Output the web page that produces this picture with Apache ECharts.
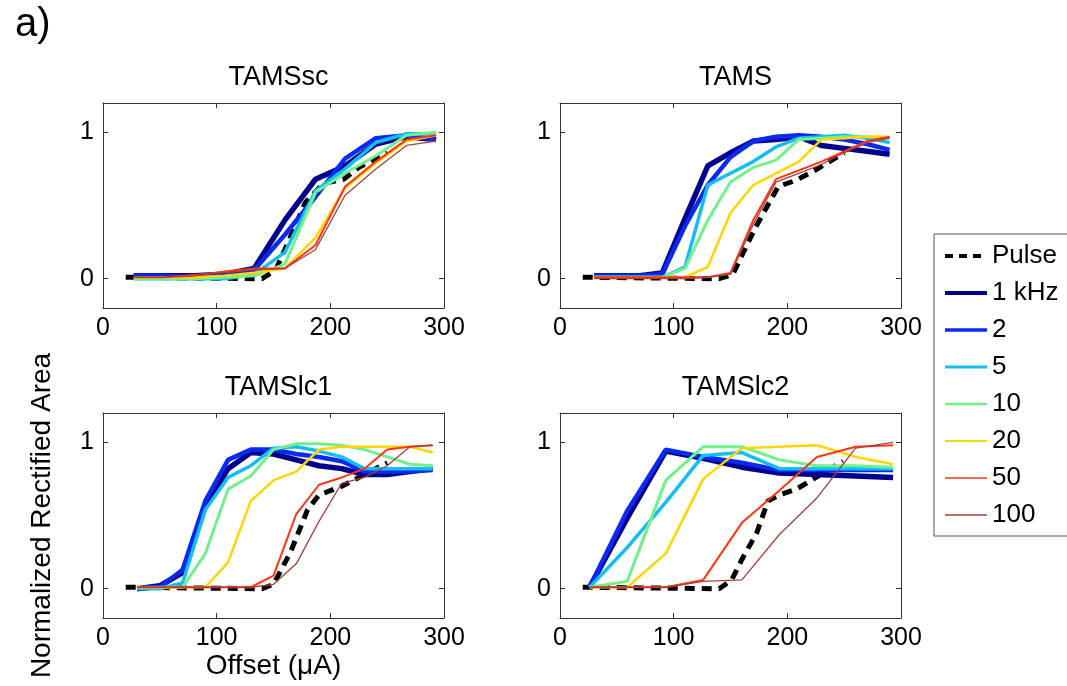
<!DOCTYPE html>
<html>
<head>
<meta charset="utf-8">
<script src="https://cdn.jsdelivr.net/npm/echarts@6/dist/echarts.min.js"></script>
<style>html,body{margin:0;padding:0;background:#fff}#c{width:1067px;height:686px}</style>
</head>
<body>
<div id="c"></div>
<script>
// ---- data ----
const panelTitles = ['TAMSsc', 'TAMS', 'TAMSlc1', 'TAMSlc2'];
const seriesNames = ['Pulse', '1 kHz', '2', '5', '10', '20', '50', '100'];
const xTicks = [0, 100, 200, 300];
const yTicks = [0, 1];

// TAMSsc
const scX = [27, 53, 80, 107, 133, 160, 187, 213, 240, 267, 293];
const sc1k = [0.02, 0.02, 0.02, 0.03, 0.07, 0.40, 0.68, 0.77, 0.92, 0.97, 0.95];
const sc2 = [0.02, 0.02, 0.01, 0.02, 0.06, 0.30, 0.56, 0.82, 0.96, 0.98, 0.95];
const sc5 = [0.00, 0.00, 0.00, 0.00, 0.03, 0.18, 0.60, 0.75, 0.93, 0.99, 0.99];
const sc10 = [0.00, 0.00, 0.00, 0.01, 0.02, 0.10, 0.59, 0.72, 0.84, 0.98, 1.00];
const sc20 = [0.01, 0.01, 0.01, 0.02, 0.04, 0.07, 0.28, 0.62, 0.79, 0.94, 0.98];
const sc50 = [0.01, 0.01, 0.02, 0.05, 0.07, 0.07, 0.23, 0.63, 0.80, 0.95, 0.98];
const sc100 = [0.01, 0.01, 0.03, 0.04, 0.06, 0.07, 0.20, 0.57, 0.75, 0.91, 0.94];
const scPulseX = [20, 140, 152, 160, 178, 194, 212, 225, 250];
const scPulse = [0.01, 0.00, 0.06, 0.20, 0.52, 0.65, 0.68, 0.76, 0.86];

// TAMS
const tX = [30, 50, 70, 90, 110, 130, 150, 170, 190, 210, 230, 250, 270, 290];
const t1k = [0.02, 0.02, 0.02, 0.04, 0.41, 0.77, 0.86, 0.94, 0.95, 0.97, 0.91, 0.89, 0.87, 0.85];
const t2 = [0.02, 0.02, 0.02, 0.03, 0.36, 0.64, 0.83, 0.94, 0.97, 0.98, 0.97, 0.95, 0.92, 0.88];
const t5 = [0.01, 0.01, 0.01, 0.01, 0.08, 0.64, 0.72, 0.80, 0.90, 0.96, 0.97, 0.98, 0.96, 0.93];
const t10 = [0.01, 0.01, 0.01, 0.01, 0.07, 0.40, 0.66, 0.76, 0.81, 0.95, 0.96, 0.97, 0.97, 0.96];
const t20 = [0.01, 0.01, 0.01, 0.01, 0.01, 0.08, 0.45, 0.64, 0.72, 0.80, 0.95, 0.96, 0.97, 0.97];
const t50 = [0.01, 0.01, 0.01, 0.01, 0.01, 0.01, 0.04, 0.40, 0.68, 0.74, 0.80, 0.87, 0.94, 0.97];
const t100 = [0.00, 0.00, 0.00, 0.00, 0.00, 0.01, 0.03, 0.37, 0.66, 0.72, 0.78, 0.86, 0.93, 0.96];
const tPulseX = [20, 140, 152, 172, 192, 207, 222, 250];
const tPulse = [0.01, 0.00, 0.03, 0.35, 0.63, 0.67, 0.73, 0.86];

// TAMSlc1
const l1X = [30, 50, 70, 90, 110, 130, 150, 170, 190, 210, 230, 250, 270, 290];
const l11k = [0.00, 0.02, 0.11, 0.56, 0.82, 0.93, 0.92, 0.88, 0.84, 0.82, 0.78, 0.78, 0.80, 0.82];
const l12 = [0.00, 0.01, 0.13, 0.60, 0.88, 0.95, 0.95, 0.92, 0.90, 0.87, 0.80, 0.80, 0.80, 0.81];
const l15 = [0.00, 0.00, 0.04, 0.54, 0.76, 0.84, 0.96, 0.97, 0.94, 0.90, 0.82, 0.82, 0.82, 0.82];
const l110 = [0.01, 0.01, 0.01, 0.24, 0.68, 0.77, 0.95, 0.99, 0.99, 0.98, 0.95, 0.90, 0.85, 0.84];
const l120 = [0.01, 0.01, 0.01, 0.01, 0.18, 0.60, 0.74, 0.80, 0.95, 0.97, 0.97, 0.97, 0.97, 0.93];
const l150 = [0.01, 0.01, 0.01, 0.01, 0.01, 0.01, 0.09, 0.51, 0.71, 0.76, 0.82, 0.95, 0.97, 0.98];
const l1100 = [0.01, 0.01, 0.01, 0.01, 0.01, 0.01, 0.03, 0.17, 0.46, 0.72, 0.76, 0.84, 0.97, 0.98];
const l1PulseX = [20, 140, 150, 165, 180, 190, 210, 225, 250];
const l1Pulse = [0.01, 0.00, 0.03, 0.25, 0.54, 0.64, 0.70, 0.76, 0.86];

// TAMSlc2
const l2X = [26, 59, 93, 126, 160, 193, 226, 260, 293];
const l21k = [0.01, 0.48, 0.94, 0.89, 0.83, 0.79, 0.78, 0.77, 0.76];
const l22 = [0.01, 0.53, 0.95, 0.90, 0.86, 0.81, 0.81, 0.81, 0.81];
const l25 = [0.01, 0.28, 0.59, 0.91, 0.93, 0.82, 0.82, 0.82, 0.82];
const l210 = [0.01, 0.05, 0.74, 0.97, 0.97, 0.88, 0.84, 0.84, 0.83];
const l220 = [0.01, 0.01, 0.24, 0.75, 0.96, 0.97, 0.98, 0.90, 0.85];
const l250 = [0.01, 0.01, 0.01, 0.06, 0.45, 0.67, 0.90, 0.97, 0.98];
const l2100 = [0.01, 0.01, 0.01, 0.05, 0.06, 0.37, 0.62, 0.96, 1.00];
const l2PulseX = [20, 140, 151, 160, 173, 183, 193, 208, 223, 249];
const l2Pulse = [0.01, 0.00, 0.06, 0.20, 0.38, 0.60, 0.64, 0.68, 0.75, 0.87];

// ---- styles ----
const colors = ['#000000', '#00008c', '#0a2af2', '#12bff5', '#72f08c', '#ffd600', '#ff3412', '#a8403c'];
const widths = [5, 5.5, 4.5, 3.5, 3, 2.5, 2, 1.3];
const legendWidths = [4, 4, 3.4, 3, 2.7, 2, 1.7, 1.3];

const panels = [
  {x: scX, px: scPulseX, pulse: scPulse, ys: [sc1k, sc2, sc5, sc10, sc20, sc50, sc100]},
  {x: tX, px: tPulseX, pulse: tPulse, ys: [t1k, t2, t5, t10, t20, t50, t100]},
  {x: l1X, px: l1PulseX, pulse: l1Pulse, ys: [l11k, l12, l15, l110, l120, l150, l1100]},
  {x: l2X, px: l2PulseX, pulse: l2Pulse, ys: [l21k, l22, l25, l210, l220, l250, l2100]}
];
const gridPos = [
  {left: 103, top: 103}, {left: 560, top: 103},
  {left: 103, top: 413}, {left: 560, top: 413}
];
const FONT = 'Liberation Sans';
const axisCol = '#333';

const grids = [], xAxes = [], yAxes = [], series = [], titles = [];
titles.push({text: 'a)', left: 10, top: 0, textStyle: {fontSize: 40, fontWeight: 'normal', color: '#000', fontFamily: FONT}});

gridPos.forEach((g, i) => {
  grids.push({left: g.left, top: g.top, width: 341, height: 205, containLabel: false});
  titles.push({text: panelTitles[i], left: g.left + 170.5, top: g.top - 44, textAlign: 'center',
    textStyle: {fontSize: 27, fontWeight: 'normal', color: '#000', fontFamily: FONT}});
  const common = {
    gridIndex: i, type: 'value', splitLine: {show: false},
    axisLine: {show: true, onZero: false, lineStyle: {color: axisCol, width: 1}},
    axisTick: {show: true, inside: true, length: 5, lineStyle: {color: axisCol}}
  };
  xAxes.push(Object.assign({}, common, {
    position: 'bottom', min: xTicks[0], max: xTicks[xTicks.length - 1], interval: 100,
    axisLabel: {color: '#000', fontSize: 25, fontFamily: FONT, margin: 8},
    name: i === 2 ? 'Offset (\u03bcA)' : '', nameLocation: 'middle', nameGap: 32,
    nameTextStyle: {fontSize: 28, color: '#000', fontFamily: FONT}
  }));
  xAxes.push(Object.assign({}, common, {
    position: 'top', min: xTicks[0], max: xTicks[xTicks.length - 1], interval: 100,
    axisLabel: {show: false}
  }));
  yAxes.push(Object.assign({}, common, {
    position: 'left', min: -0.2, max: 1.2,
    axisTick: {show: true, inside: true, length: 5, lineStyle: {color: axisCol}, customValues: yTicks},
    axisLabel: {color: '#000', fontSize: 25, fontFamily: FONT, margin: 9, customValues: yTicks},
    name: i === 2 ? 'Normalized Rectified Area' : '', nameLocation: 'middle', nameGap: 47,
    nameTextStyle: {fontSize: 28, color: '#000', fontFamily: FONT}
  }));
  yAxes.push(Object.assign({}, common, {
    position: 'right', min: -0.2, max: 1.2,
    axisTick: {show: true, inside: true, length: 5, lineStyle: {color: axisCol}, customValues: yTicks},
    axisLabel: {show: false}
  }));
  const p = panels[i];
  // pulse first (drawn beneath the coloured lines)
  series.push({
    name: seriesNames[0], type: 'line', xAxisIndex: 2 * i, yAxisIndex: 2 * i,
    data: p.px.map((xv, j) => [xv, p.pulse[j]]), symbol: 'none', animation: false, silent: true,
    lineStyle: {color: colors[0], width: widths[0], type: [10, 7], cap: 'butt'}, itemStyle: {color: colors[0]}, z: 2
  });
  p.ys.forEach((ys, k) => {
    const s = k + 1;
    series.push({
      name: seriesNames[s], type: 'line', xAxisIndex: 2 * i, yAxisIndex: 2 * i,
      data: p.x.map((xv, j) => [xv, ys[j]]), symbol: 'none', animation: false, silent: true,
      lineStyle: {color: colors[s], width: widths[s]}, itemStyle: {color: colors[s]}, z: 2 + s
    });
  });
});

const option = {
  backgroundColor: '#fff',
  animation: false,
  title: titles,
  grid: grids,
  xAxis: xAxes,
  yAxis: yAxes,
  legend: {
    orient: 'vertical', left: 934, top: 234,
    data: seriesNames.map((n, k) => ({
      name: n,
      lineStyle: {width: legendWidths[k], color: colors[k], type: k === 0 ? [8, 6] : 'solid'},
      itemStyle: {opacity: 0}
    })),
    itemWidth: 42, itemHeight: 14, itemGap: 11,
    textStyle: {fontSize: 26, color: '#000', fontFamily: FONT, lineHeight: 26},
    borderColor: '#555', borderWidth: 1, padding: [9, 30, 8, 9], backgroundColor: '#fff',
    selectedMode: false
  },
  series: series
};
const chart = echarts.init(document.getElementById('c'), null, {renderer: 'canvas'});
chart.setOption(option);
</script>
</body>
</html>
